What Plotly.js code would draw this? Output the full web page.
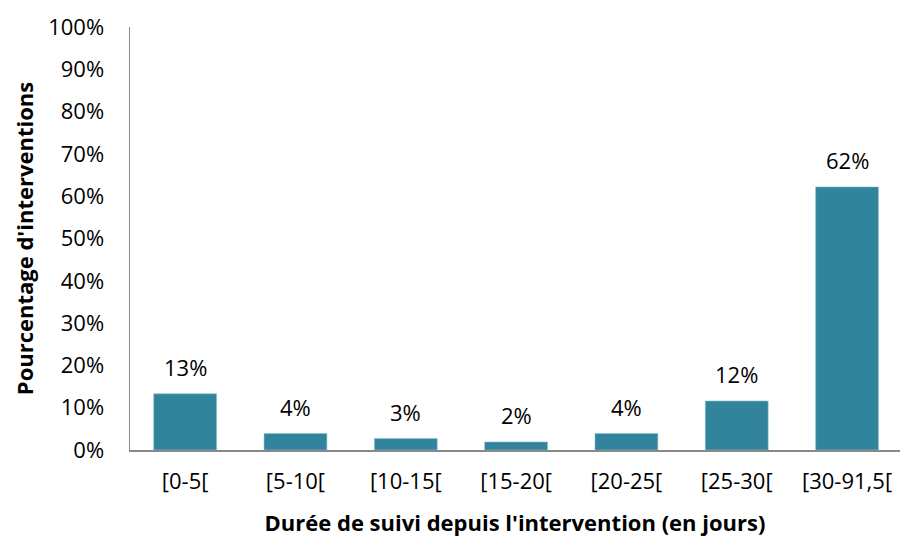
<!DOCTYPE html>
<html>
<head>
<meta charset="utf-8">
<script src="https://cdn.plot.ly/plotly-3.0.1.min.js"></script>
<style>html,body{margin:0;padding:0;background:#fff;}#chart{width:900px;height:538px;}</style>
</head>
<body>
<div id="chart"></div>
<script>
const categories = ["[0-5[", "[5-10[", "[10-15[", "[15-20[", "[20-25[", "[25-30[", "[30-91,5["];
const values = [13.3, 3.9, 2.7, 1.9, 3.9, 11.6, 62.2];
const valueLabels = ["13%", "4%", "3%", "2%", "4%", "12%", "62%"];
const yTickVals = [0, 10, 20, 30, 40, 50, 60, 70, 80, 90, 100];
const yTickText = ["0%", "10%", "20%", "30%", "40%", "50%", "60%", "70%", "80%", "90%", "100%"];

const FONT = "'Open Sans', sans-serif";

const trace = {
  type: "bar",
  x: categories,
  y: values,
  marker: { color: "#31849B", line: { color: "#8ec3d2", width: 0.6 } },
  hoverinfo: "skip"
};

const annotations = categories.map((c, i) => ({
  x: c, y: values[i], xref: "x", yref: "y",
  text: valueLabels[i], showarrow: false,
  yanchor: "bottom", yshift: 10,
  font: { family: FONT, size: 22, color: "#000" }
}));

const layout = {
  width: 900, height: 538,
  margin: { l: 130, r: 0, t: 27, b: 88 },
  paper_bgcolor: "#fff", plot_bgcolor: "#fff",
  bargap: 0.43,
  showlegend: false,
  font: { family: FONT, size: 22, color: "#000" },
  xaxis: {
    type: "category",
    range: [-0.5, 6.48],
    showline: true, linecolor: "#888", linewidth: 1.5,
    ticks: "outside", ticklen: 11, tickcolor: "rgba(0,0,0,0)",
    tickfont: { family: FONT, size: 22, color: "#000" },
    title: { text: "Durée de suivi depuis l'intervention (en jours)", font: { family: FONT, size: 22, color: "#000", weight: "bold" }, standoff: 21 },
    fixedrange: true
  },
  yaxis: {
    range: [0, 100],
    tickvals: yTickVals, ticktext: yTickText,
    showgrid: false, zeroline: false,
    showline: true, linecolor: "#888", linewidth: 1.5,
    ticks: "outside", ticklen: 20, tickcolor: "rgba(0,0,0,0)",
    tickfont: { family: FONT, size: 22, color: "#000" },
    title: { text: "Pourcentage d'interventions", font: { family: FONT, size: 22, color: "#000", weight: "bold" }, standoff: 8 },
    fixedrange: true
  },
  annotations: annotations
};

Plotly.newPlot("chart", [trace], layout, { displayModeBar: false, staticPlot: true });
</script>
</body>
</html>
